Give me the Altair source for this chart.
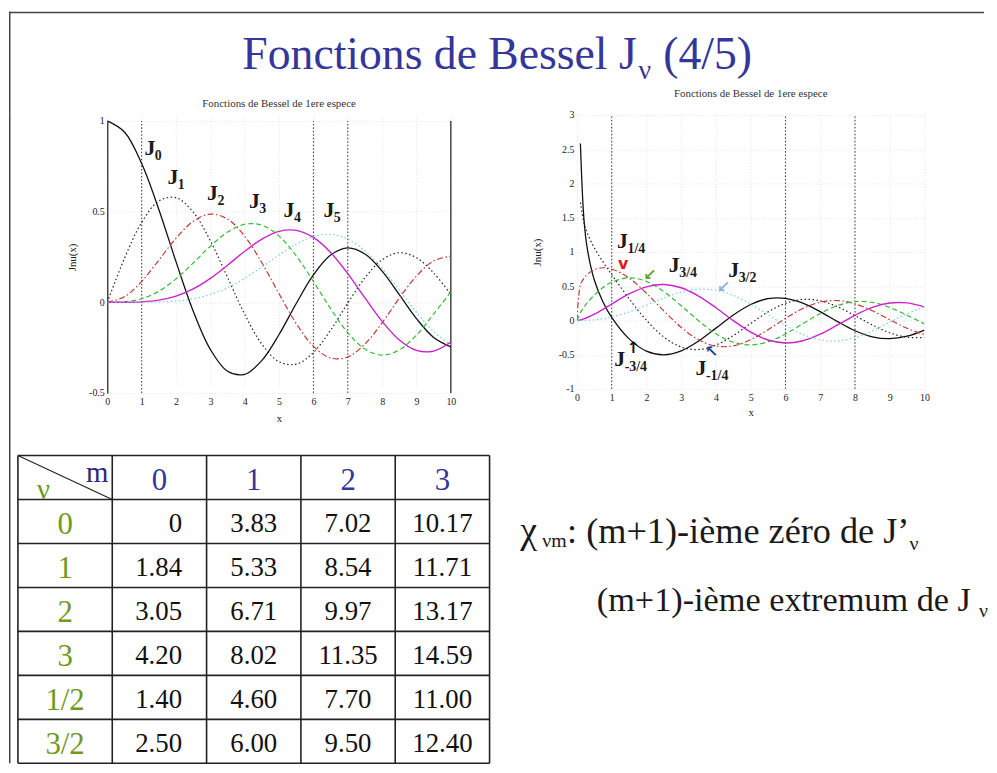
import altair as alt
import pandas as pd

# ------------------------------------------------------------------ data
# left panel : J0 ... J5
XL = [0, 0.5, 1, 1.5, 2, 2.5, 3, 3.5, 4, 4.5, 5,
      5.5, 6, 6.5, 7, 7.5, 8, 8.5, 9, 9.5, 10]
J0 = [1.0, 0.9385, 0.7652, 0.5118, 0.2239, -0.0484, -0.2601, -0.3801, -0.3971, -0.3205, -0.1776,
      -0.0068, 0.1506, 0.2601, 0.3001, 0.2663, 0.1717, 0.0419, -0.0903, -0.1939, -0.2459]
J1 = [0.0, 0.2423, 0.4401, 0.5579, 0.5767, 0.4971, 0.3391, 0.1374, -0.0660, -0.2311, -0.3276,
      -0.3414, -0.2767, -0.1538, -0.0047, 0.1352, 0.2346, 0.2731, 0.2453, 0.1613, 0.0435]
J2 = [0.0, 0.0306, 0.1149, 0.2321, 0.3528, 0.4461, 0.4861, 0.4586, 0.3641, 0.2179, 0.0466,
      -0.1173, -0.2429, -0.3074, -0.3014, -0.2303, -0.1130, 0.0223, 0.1448, 0.2279, 0.2546]
J3 = [0.0, 0.0026, 0.0196, 0.0610, 0.1289, 0.2166, 0.3091, 0.3868, 0.4302, 0.4247, 0.3648,
      0.2561, 0.1148, -0.0353, -0.1676, -0.2581, -0.2911, -0.2626, -0.1809, -0.0652, 0.0584]
J4 = [0.0, 0.0002, 0.0025, 0.0118, 0.0340, 0.0738, 0.1320, 0.2044, 0.2811, 0.3484, 0.3912,
      0.3967, 0.3576, 0.2748, 0.1578, 0.0238, -0.1054, -0.2077, -0.2655, -0.2691, -0.2196]
J5 = [0.0, 0.0000, 0.0002, 0.0018, 0.0070, 0.0195, 0.0430, 0.0804, 0.1321, 0.1947, 0.2611,
      0.3209, 0.3621, 0.3736, 0.3479, 0.2835, 0.1858, 0.0671, -0.0550, -0.1613, -0.2341]
LEFT_NAMES = ["J0", "J1", "J2", "J3", "J4", "J5"]
LEFT_VALUES = [J0, J1, J2, J3, J4, J5]
LEFT_MARK_X = [1, 6, 7]
LEFT_LAB_X = [1.24, 1.91, 3.06, 4.28, 5.29, 6.45]
LEFT_LAB_Y = [0.85, 0.69, 0.60, 0.56, 0.51, 0.51]
LEFT_LAB_SUB = ["0", "1", "2", "3", "4", "5"]

# right panel : fractional orders
XR = [0, 0.1, 0.2, 0.3, 0.5, 0.75, 1, 1.5, 2, 2.5, 3, 3.5, 4, 4.5, 5,
      5.5, 6, 6.5, 7, 7.5, 8, 8.5, 9, 9.5, 10]
JM34 = [None, 2.5824, 1.4892, 1.0423, 0.5899, 0.2697, 0.0447, -0.2684, -0.4467, -0.5009, -0.4438,
        -0.3008, -0.1115, 0.0803, 0.2336, 0.3189, 0.3235, 0.2527, 0.1284, -0.0173, -0.1496,
        -0.2386, -0.2662, -0.2293, -0.1399]
JM14 = [None, 1.7200, 1.4319, 1.2722, 1.0596, 0.8550, 0.6694, 0.3180, 0.0036, -0.2410, -0.3873,
        -0.4241, -0.3594, -0.2197, -0.0439, 0.1254, 0.2506, 0.3070, 0.2868, 0.2004, 0.0720,
        -0.0656, -0.1798, -0.2450, -0.2484]
J14 = [0.0, 0.5207, 0.6155, 0.6743, 0.7417, 0.7692, 0.7522, 0.6192, 0.3978, 0.1406, -0.1006,
       -0.2819, -0.3747, -0.3705, -0.2809, -0.1345, 0.0306, 0.1753, 0.2680, 0.2910, 0.2436,
       0.1413, 0.0113, -0.1144, -0.2064]
J34 = [0.0, 0.1149, 0.1924, 0.2589, 0.3711, 0.4806, 0.5587, 0.6225, 0.5698, 0.4223, 0.2161,
       -0.0037, -0.1935, -0.3176, -0.3569, -0.3111, -0.1976, -0.0475, 0.1025, 0.2182, 0.2752,
       0.2639, 0.1910, 0.0768, -0.0497]
J32 = [0.0, 0.0084, 0.0237, 0.0433, 0.0917, 0.1632, 0.2403, 0.3871, 0.4913, 0.5251, 0.4777,
       0.3566, 0.1853, -0.0024, -0.1697, -0.2848, -0.3279, -0.2953, -0.1991, -0.0646, 0.0759,
       0.1905, 0.2545, 0.2561, 0.1980]
J52 = [0.0, 0.0002, 0.0010, 0.0026, 0.0092, 0.0249, 0.0495, 0.1245, 0.2239, 0.3281, 0.4127,
       0.4553, 0.4409, 0.3661, 0.2404, 0.0847, -0.0730, -0.2036, -0.2834, -0.2991, -0.2506,
       -0.1513, -0.0248, 0.1003, 0.1967]
RIGHT_NAMES = ["J-3/4", "J-1/4", "J1/4", "J3/4", "J3/2", "J5/2"]
RIGHT_VALUES = [JM34, JM14, J14, J34, J32, J52]
RIGHT_MARK_X = [1, 6, 8]
RIGHT_LAB_X = [1.31, 2.80, 4.51, 1.23, 3.57]
RIGHT_LAB_Y = [1.16, 0.81, 0.74, -0.57, -0.70]
RIGHT_LAB_SUB = ["1/4", "3/4", "3/2", "-3/4", "-1/4"]
RIGHT_ARROW_X = [1.33, 2.10, 4.22, 1.62, 3.88]
RIGHT_ARROW_Y = [0.83, 0.67, 0.49, -0.40, -0.46]
RIGHT_ARROW_GLYPH = ["v", "↙", "↙", "↑", "↖"]

# table of extrema
TABLE_COLS = ["0", "1", "2", "3"]
TABLE_ROWS = ["0", "1", "2", "3", "1/2", "3/2"]
TABLE_VALUES = [
    ["0", "3.83", "7.02", "10.17"],
    ["1.84", "5.33", "8.54", "11.71"],
    ["3.05", "6.71", "9.97", "13.17"],
    ["4.20", "8.02", "11.35", "14.59"],
    ["1.40", "4.60", "7.70", "11.00"],
    ["2.50", "6.00", "9.50", "12.40"],
]

# ------------------------------------------------------------------ styles
SERIF = "Liberation Serif"
INK = "#1a1a1a"
GRID = "#e2e2e2"
BLUE = "#35359a"
GREEN = "#6f9a20"
BORDER = "#444444"
DOT = [1.5, 2.5]
DASHDOT = [6, 2.5, 1.5, 2.5]
DASH = [5, 3]
LEFT_STYLE = [("#111111", None, 1.3), ("#222222", DOT, 1.2), ("#cc3333", DASHDOT, 1.2),
              ("#33bb33", DASH, 1.2), ("#cc22cc", None, 1.4), ("#77cfd6", DOT, 1.2)]
RIGHT_STYLE = LEFT_STYLE
ARROW_COLORS = ["#e01818", "#66a522", "#8fb0e0", "#111111", "#2e3f90"]


def long_df(xs, names, values):
    rows = []
    for name, ys in zip(names, values):
        for x, y in zip(xs, ys):
            if y is not None:
                rows.append({"x": x, "y": y, "s": name})
    return pd.DataFrame(rows)


def bessel_panel(xs, names, values, styles, ydom, yvals, w, h, top, mark_x, right_frame,
                 xt_y, yt_x, lab_x, lab_y, lab_sub, arrows=None, title_offset=11):
    x_axis = alt.Axis(values=list(range(11)), title="x", grid=True, gridColor=GRID,
                      gridDash=[1, 2], domain=False, ticks=False, labelFont=SERIF,
                      labelFontSize=10, labelColor="#222", labelPadding=4, labelFlush=False,
                      labelOverlap=False, titleFont=SERIF, titleFontSize=11,
                      titleFontWeight="normal", titleColor="#222", titleY=xt_y,
                      titleBaseline="middle")
    ykw = dict(values=yvals, title="Jnu(x)", grid=True, gridColor=GRID, gridDash=[1, 2],
               domain=right_frame, ticks=False, labelFont=SERIF, labelFontSize=10,
               labelColor="#222", labelPadding=3, labelOverlap=False,
               labelExpr="'' + datum.value", titleFont=SERIF, titleFontSize=11,
               titleFontWeight="normal", titleColor="#222", titleX=yt_x,
               titleY=(h + top) / 2, titleAngle=-90, titleAlign="center",
               titleBaseline="middle")
    if right_frame:
        ykw.update(domainColor=INK, domainWidth=1.2)
    xenc = alt.X("x:Q", scale=alt.Scale(domain=[0, 10], nice=False, zero=False), axis=x_axis)
    yscale = alt.Scale(domain=ydom, nice=False, zero=False, range=[h, top])

    def yenc(f="y"):
        return alt.Y(f + ":Q", scale=yscale, axis=alt.Axis(**ykw))

    rules = pd.DataFrame({"x": mark_x, "lo": ydom[0], "hi": ydom[1]})
    layers = [
        alt.Chart(rules).mark_rule(color="#333333", strokeDash=[1.5, 2], strokeWidth=1).encode(
            x=xenc, y=yenc("lo"), y2="hi")
    ]
    if right_frame:
        frame = pd.DataFrame({"x": [10], "lo": ydom[0], "hi": ydom[1]})
        layers.append(alt.Chart(frame).mark_rule(color=INK, strokeWidth=1.2).encode(
            x=xenc, y=yenc("lo"), y2="hi"))
    df = long_df(xs, names, values)
    for name, (color, dash, sw) in zip(names, styles):
        kw = dict(color=color, strokeWidth=sw, interpolate="catmull-rom", clip=True)
        if dash is not None:
            kw["strokeDash"] = dash
        layers.append(alt.Chart(df[df.s == name]).mark_line(**kw).encode(x=xenc, y=yenc()))

    lab = pd.DataFrame({"x": lab_x, "y": lab_y, "sub": lab_sub})
    layers.append(alt.Chart(lab).mark_text(
        text="J", font=SERIF, fontSize=22, fontWeight="bold", color=INK, align="center",
        baseline="middle").encode(x=xenc, y=yenc()))
    layers.append(alt.Chart(lab).mark_text(
        font=SERIF, fontSize=14, fontWeight="bold", color=INK, align="left",
        baseline="middle", dx=5, dy=8).encode(x=xenc, y=yenc(), text="sub:N"))
    if arrows is not None:
        layers.append(alt.Chart(arrows).mark_text(
            font="DejaVu Sans", fontSize=16, fontWeight="bold", align="center",
            baseline="middle").encode(x=xenc, y=yenc(), text="g:N",
                                      color=alt.Color("c:N", scale=None)))
    return alt.layer(*layers).properties(
        width=w, height=h,
        title=alt.TitleParams("Fonctions de Bessel de 1ere espece", font=SERIF, fontSize=11,
                              fontWeight="normal", color="#333333", offset=title_offset))


left = bessel_panel(XL, LEFT_NAMES, LEFT_VALUES, LEFT_STYLE, [-0.5, 1],
                    [-0.5, 0, 0.5, 1], 346, 280, 6, LEFT_MARK_X, True, 26, -35,
                    LEFT_LAB_X, LEFT_LAB_Y, LEFT_LAB_SUB, title_offset=6)
arrows = pd.DataFrame({"x": RIGHT_ARROW_X, "y": RIGHT_ARROW_Y, "g": RIGHT_ARROW_GLYPH,
                       "c": ARROW_COLORS})
right = bessel_panel(XR, RIGHT_NAMES, RIGHT_VALUES, RIGHT_STYLE, [-1, 3],
                     [-1, -0.5, 0, 0.5, 1, 1.5, 2, 2.5, 3], 350, 276, 0, RIGHT_MARK_X, False,
                     24, -40, RIGHT_LAB_X, RIGHT_LAB_Y, RIGHT_LAB_SUB, arrows=arrows,
                     title_offset=11)

# ------------------------------------------------------------------ table
# the table sits in a 99 px wide grid cell and is drawn beyond it through its own scale range
TX = alt.Scale(domain=[0, 5], nice=False, zero=False, range=[9, 484])
TY = alt.Scale(domain=[0, 7], nice=False, zero=False, range=[63, 373])
vlines = pd.DataFrame({"c": list(range(6)), "r0": 0, "r1": 7})
hlines = pd.DataFrame({"r": list(range(8)), "c0": 0, "c1": 5})
diag = pd.DataFrame({"c0": [0], "r0": [0], "c1": [1], "r1": [1]})
head = pd.DataFrame({"c": [i + 1.5 for i in range(4)], "r": 0.5, "t": TABLE_COLS})
rowlab = pd.DataFrame({"c": 0.5, "r": [i + 1.5 for i in range(6)], "t": TABLE_ROWS})
cells = []
for i, row in enumerate(TABLE_VALUES):
    for j, v in enumerate(row):
        cells.append({"r": i + 1.5, "c": j + 1, "t": v})
cells = pd.DataFrame(cells)
cells0 = cells[cells.c == 1].assign(c=1.74)
cellsN = cells[cells.c > 1].assign(c=lambda d: d.c + 0.5)
corner = pd.DataFrame({"c": [0.84, 0.27], "r": [0.41, 0.79], "t": ["m", "ν"]})


def tx(f):
    return alt.X(f + ":Q", scale=TX, axis=None)


def ty(f):
    return alt.Y(f + ":Q", scale=TY, axis=None)


table = alt.layer(
    alt.Chart(pd.DataFrame({"v": [0]})).mark_rule(color=BORDER, strokeWidth=1.5).encode(
        x=alt.value(0.75), y=alt.value(0), y2=alt.value(373)),
    alt.Chart(vlines).mark_rule(color="#222", strokeWidth=1.6).encode(
        x=tx("c"), y=ty("r0"), y2="r1"),
    alt.Chart(hlines).mark_rule(color="#222", strokeWidth=1.6).encode(
        y=ty("r"), x=tx("c0"), x2="c1"),
    alt.Chart(diag).mark_rule(color="#222", strokeWidth=1.2).encode(
        x=tx("c0"), y=ty("r0"), x2="c1", y2="r1"),
    alt.Chart(head).mark_text(font=SERIF, fontSize=31, color=BLUE, baseline="middle",
                              dy=4).encode(x=tx("c"), y=ty("r"), text="t:N"),
    alt.Chart(rowlab).mark_text(font=SERIF, fontSize=31, color=GREEN, baseline="middle",
                                dy=4).encode(x=tx("c"), y=ty("r"), text="t:N"),
    alt.Chart(cells0).mark_text(font=SERIF, fontSize=27, color="#111", align="right",
                                baseline="middle", dy=3).encode(x=tx("c"), y=ty("r"),
                                                                text="t:N"),
    alt.Chart(cellsN).mark_text(font=SERIF, fontSize=27, color="#111", align="center",
                                baseline="middle", dy=3).encode(x=tx("c"), y=ty("r"),
                                                                text="t:N"),
    alt.Chart(corner).mark_text(font=SERIF, fontSize=29, baseline="middle").encode(
        x=tx("c"), y=ty("r"), text="t:N",
        color=alt.Color("t:N", scale=alt.Scale(domain=["m", "ν"], range=["#2a2a70", GREEN]),
                        legend=None)),
).properties(width=99, height=373)


# ------------------------------------------------------------------ free text
def txt(s, x, y, size, color=INK, align="left"):
    return alt.Chart(pd.DataFrame({"t": [s]})).mark_text(
        font=SERIF, fontSize=size, color=color, align=align, baseline="alphabetic").encode(
        x=alt.value(x), y=alt.value(y), text="t:N")


title_row = alt.layer(
    alt.Chart(pd.DataFrame({"v": [0]})).mark_rule(color=BORDER, strokeWidth=1.5).encode(
        x=alt.value(0), x2=alt.value(982), y=alt.value(0.75)),
    alt.Chart(pd.DataFrame({"v": [0]})).mark_rule(color=BORDER, strokeWidth=1.5).encode(
        x=alt.value(0.75), y=alt.value(0), y2=alt.value(104)),
    txt("Fonctions de Bessel J", 235, 58, 46, BLUE),
    txt("ν", 634, 68, 28, BLUE),
    txt("(4/5)", 659, 58, 46, BLUE),
).properties(width=99, height=104)

# text panel cell starts at x = 445 inside the layout
text_panel = alt.layer(
    txt("χ", 70, 151, 38),
    txt("νm", 92, 155, 20),
    txt(": (m+1)-ième zéro de J’", 117, 151, 36.5),
    txt("ν", 462, 158, 20),
    txt("(m+1)-ième extremum de J", 147, 220, 34.5),
    txt("ν", 532, 226, 20),
).properties(width=127, height=373)


def spacer(w, h, border=False):
    base = alt.Chart(pd.DataFrame({"v": [0]}))
    if border:
        m = base.mark_rule(color=BORDER, strokeWidth=1.5)
        return m.encode(x=alt.value(0.75), y=alt.value(0), y2=alt.value(h)).properties(
            width=w, height=h)
    return base.mark_rule(opacity=0).encode(x=alt.value(0), y=alt.value(0),
                                            y2=alt.value(1)).properties(width=w, height=h)


# grid columns: 99 | 346 | 127 | 350
cells_grid = [
    title_row, spacer(346, 104), spacer(127, 104), spacer(350, 104),
    spacer(99, 280, True), left, spacer(127, 280), right,
    table, spacer(346, 373), text_panel, spacer(350, 373),
]

chart = alt.concat(
    *cells_grid, columns=4, spacing=0, bounds="flush", align="each",
).resolve_scale(x="independent", y="independent", color="independent").configure_view(
    strokeWidth=0).properties(padding=0, background="white")

chart.save("out.html", embed_options={"renderer": "svg", "actions": False})
